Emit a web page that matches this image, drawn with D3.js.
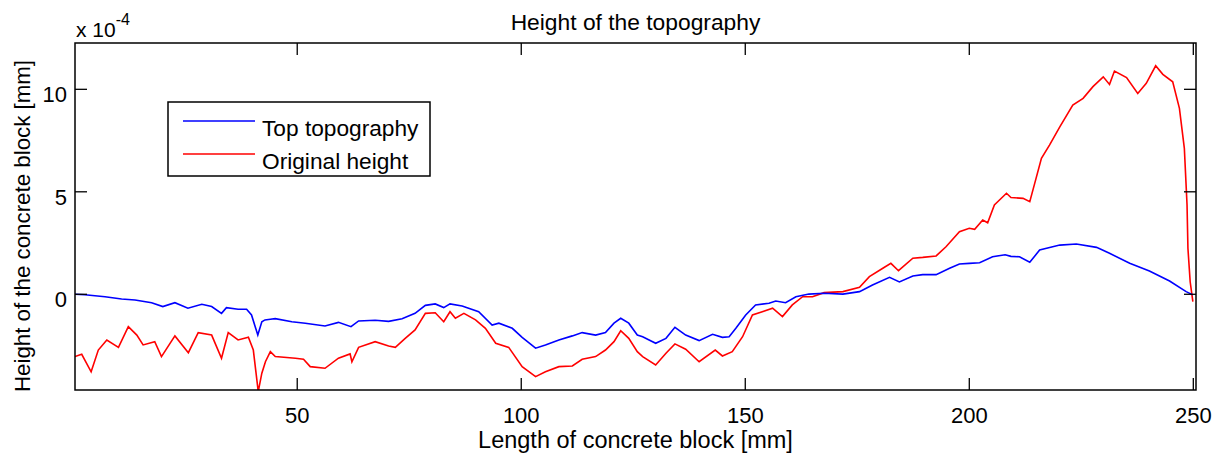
<!DOCTYPE html>
<html>
<head>
<meta charset="utf-8">
<script src="https://cdn.jsdelivr.net/npm/d3@7"></script>
<style>
  body { margin: 0; background: #fff; }
  svg text { font-family: "Liberation Sans", Arial, sans-serif; fill: #000; }
</style>
</head>
<body>
<svg id="chart" width="1224" height="459"></svg>
<script>
// posición (mm) y alturas en unidades de 1e-4 mm
const topX = [0.4, 2.6, 7.1, 10.8, 13.8, 17.5, 20.0, 22.7, 25.6, 28.7, 30.9, 33.1, 34.2, 36.8, 38.7, 39.8, 41.2, 42.1, 42.8,
  44.0, 45.1, 48.8, 51.8, 56.2, 59.2, 62.0, 63.7, 67.4, 70.4, 73.4, 76.3, 78.6, 80.8, 82.7, 84.1,
  86.8, 90.5, 93.5, 95.0, 98.0, 100.2, 103.2, 105.4, 108.4, 111.4, 113.6, 116.6, 118.8, 120.7, 122.2, 124.0, 125.9,
  127.1, 130.0, 132.3, 134.3, 136.7, 139.7, 142.7, 144.9, 146.4, 147.9, 150.1, 152.3, 155.3, 156.8, 159.0, 161.3, 164.2, 167.6,
  171.8, 175.5, 178.4, 182.2, 184.4, 187.4, 189.6, 192.6, 195.6, 197.8, 200.0, 202.3, 205.2, 208.0, 209.3,
  211.2, 213.5, 215.7, 220.2, 223.9, 228.4, 231.3, 235.8, 240.2, 244.7, 248.4, 249.9];
const topTopography = [0.00, -0.02, -0.12, -0.23, -0.28, -0.41, -0.60, -0.41, -0.68, -0.49, -0.60, -0.93, -0.65, -0.73, -0.73, -1.01, -1.99, -1.34, -1.25,
  -1.22, -1.19, -1.34, -1.41, -1.55, -1.37, -1.58, -1.30, -1.27, -1.32, -1.19, -0.93, -0.54, -0.47, -0.65, -0.47,
  -0.57, -0.85, -1.50, -1.41, -1.66, -2.10, -2.63, -2.47, -2.23, -2.03, -1.87, -1.99, -1.87, -1.41, -1.17, -1.41, -1.99,
  -2.07, -2.39, -2.15, -1.61, -1.99, -2.26, -1.95, -2.10, -2.07, -1.66, -1.01, -0.52, -0.44, -0.33, -0.41, -0.12, 0.01, 0.05,
  0.01, 0.13, 0.45, 0.83, 0.60, 0.89, 0.96, 0.96, 1.27, 1.48, 1.51, 1.54, 1.83, 1.93, 1.85,
  1.83, 1.56, 2.16, 2.40, 2.45, 2.29, 2.00, 1.51, 1.14, 0.65, 0.13, -0.03];

const origX = [0.4, 1.9, 4.0, 5.6, 7.5, 10.1, 12.3, 14.2, 15.6, 18.2, 19.7, 22.7, 25.7, 27.9, 30.9, 33.1, 34.6, 36.8, 39.1, 40.2, 41.3, 42.1, 42.8,
  42.9, 44.0, 45.1, 49.6, 51.4, 52.9, 56.2, 59.2, 61.8, 62.2, 63.7, 67.4, 70.4, 71.9, 74.1, 76.3, 78.6, 80.8, 82.7, 84.1,
  85.3, 87.2, 89.8, 92.0, 94.3, 97.2, 100.2, 103.2, 105.4, 108.4, 111.4, 113.6, 116.6, 118.8, 120.7, 122.2, 124.0, 125.9,
  127.1, 130.0, 132.3, 134.3, 136.7, 139.7, 143.3, 144.9, 147.1, 149.4, 151.6, 153.8, 156.1, 158.3, 160.5, 162.8, 165.0, 167.6,
  171.8, 175.5, 177.7, 180.7, 182.5, 184.2, 187.4, 189.6, 192.6, 194.8, 197.8, 200.0, 201.2, 203.0, 204.1, 205.6, 208.3, 209.3,
  212.0, 213.5, 214.6, 216.1, 217.9, 220.2, 223.1, 225.4, 227.6, 229.9, 231.3, 232.4, 235.1, 237.6, 239.5, 241.6, 243.2, 245.4,
  246.9, 248.0, 248.6, 248.8, 249.3, 249.9];
const originalHeight = [-3.04, -2.93, -3.78, -2.72, -2.23, -2.59, -1.58, -1.99, -2.47, -2.31, -3.04, -2.03, -2.85, -1.87, -1.99, -3.12, -1.87, -2.23, -2.10, -2.72, -4.75, -3.85, -3.37,
  -3.29, -2.80, -3.04, -3.12, -3.17, -3.53, -3.61, -3.12, -2.91, -3.29, -2.59, -2.31, -2.52, -2.59, -2.15, -1.74, -0.93, -0.90, -1.34, -0.85,
  -1.17, -0.93, -1.25, -1.66, -2.39, -2.59, -3.53, -4.02, -3.78, -3.53, -3.50, -3.17, -3.04, -2.72, -2.31, -1.78, -2.15, -2.80,
  -3.04, -3.45, -2.88, -2.42, -2.68, -3.29, -2.72, -3.01, -2.80, -2.07, -1.01, -0.85, -0.68, -1.09, -0.52, -0.12, -0.12, 0.08,
  0.13, 0.34, 0.86, 1.27, 1.51, 1.15, 1.76, 1.80, 1.87, 2.32, 3.05, 3.22, 3.17, 3.62, 3.49, 4.36, 4.93, 4.72,
  4.68, 4.52, 5.41, 6.63, 7.28, 8.17, 9.23, 9.56, 10.13, 10.61, 10.24, 10.89, 10.57, 9.80, 10.29, 11.15, 10.73, 10.37,
  9.07, 7.12, 4.36, 2.24, 0.61, -0.36];

const xTicks = [50, 100, 150, 200, 250];
const yTicks = [0, 5, 10];
const seriesNames = ['Top topography', 'Original height'];
const seriesColors = ['#0000ff', '#ff0000'];

const svg = d3.select('#chart');
const box = { left: 75, right: 1196, top: 43, bottom: 390 };

const x = d3.scaleLinear().domain([0.4, 250.6]).range([box.left, box.right]);
const y = d3.scaleLinear().domain([-4.67, 12.26]).range([box.bottom, box.top]);

svg.append('defs').append('clipPath').attr('id', 'clip')
  .append('rect').attr('x', box.left).attr('y', box.top)
  .attr('width', box.right - box.left).attr('height', box.bottom - box.top);

const line = d3.line().x(d => x(d[0])).y(d => y(d[1]));
const series = [
  d3.zip(topX, topTopography),
  d3.zip(origX, originalHeight)
];

// rojo debajo, azul encima como en la figura
svg.append('path').datum(series[1]).attr('clip-path', 'url(#clip)')
  .attr('d', line).attr('fill', 'none').attr('stroke', seriesColors[1]).attr('stroke-width', 1.6);
svg.append('path').datum(series[0]).attr('clip-path', 'url(#clip)')
  .attr('d', line).attr('fill', 'none').attr('stroke', seriesColors[0]).attr('stroke-width', 1.6);

// marco y ticks hacia dentro
svg.append('rect').attr('x', box.left).attr('y', box.top)
  .attr('width', box.right - box.left).attr('height', box.bottom - box.top)
  .attr('fill', 'none').attr('stroke', '#000').attr('stroke-width', 1.5);

const tickLen = 12;
xTicks.forEach(t => {
  const px = x(t);
  svg.append('line').attr('x1', px).attr('x2', px).attr('y1', box.bottom).attr('y2', box.bottom - tickLen)
    .attr('stroke', '#000').attr('stroke-width', 1.3);
  svg.append('line').attr('x1', px).attr('x2', px).attr('y1', box.top).attr('y2', box.top + tickLen)
    .attr('stroke', '#000').attr('stroke-width', 1.3);
  svg.append('text').attr('x', px).attr('y', box.bottom + 33).attr('text-anchor', 'middle')
    .attr('font-size', '22px').text(t);
});
yTicks.forEach(t => {
  const py = y(t);
  svg.append('line').attr('x1', box.left).attr('x2', box.left + tickLen).attr('y1', py).attr('y2', py)
    .attr('stroke', '#000').attr('stroke-width', 1.3);
  svg.append('line').attr('x1', box.right).attr('x2', box.right - tickLen).attr('y1', py).attr('y2', py)
    .attr('stroke', '#000').attr('stroke-width', 1.3);
  svg.append('text').attr('x', box.left - 8).attr('y', py + 13).attr('text-anchor', 'end')
    .attr('font-size', '22px').text(t);
});

// exponente
const expo = svg.append('text').attr('x', box.left + 1).attr('y', 37).attr('font-size', '21px');
expo.append('tspan').text('x 10');
expo.append('tspan').attr('dy', -12).attr('font-size', '16px').text('-4');

// títulos
svg.append('text').attr('x', (box.left + box.right) / 2).attr('y', 30).attr('text-anchor', 'middle')
  .attr('font-size', '22.8px').text('Height of the topography');
svg.append('text').attr('x', (box.left + box.right) / 2).attr('y', 448).attr('text-anchor', 'middle')
  .attr('font-size', '23.5px').text('Length of concrete block [mm]');
svg.append('text').attr('transform', 'translate(30,226) rotate(-90)').attr('text-anchor', 'middle')
  .attr('font-size', '22.3px').text('Height of the concrete block [mm]');

// leyenda
const lg = svg.append('g');
lg.append('rect').attr('x', 168).attr('y', 102).attr('width', 262).attr('height', 74)
  .attr('fill', '#fff').attr('stroke', '#000').attr('stroke-width', 1.5);
seriesNames.forEach((name, i) => {
  const ly = 121 + i * 33;
  lg.append('line').attr('x1', 183).attr('x2', 255).attr('y1', ly).attr('y2', ly)
    .attr('stroke', seriesColors[i]).attr('stroke-width', 1.5);
  lg.append('text').attr('x', 262).attr('y', ly + 15).attr('font-size', '22.7px').text(name);
});
</script>
</body>
</html>
